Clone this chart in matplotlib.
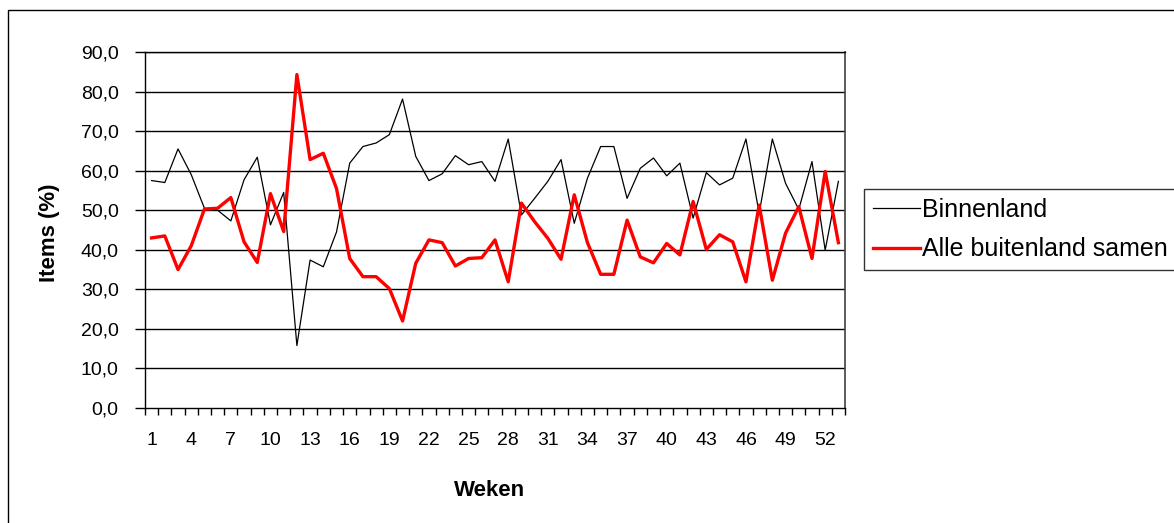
import numpy as np
import matplotlib
matplotlib.use("Agg")
import matplotlib.pyplot as plt
from matplotlib.patches import Rectangle
from matplotlib.ticker import FixedLocator, FuncFormatter

plt.rcParams['font.family'] = ['Liberation Sans', 'DejaVu Sans']

# weken 1..53
weken = np.arange(1, 54)

binnenland = [57.5, 57.0, 65.5, 59.0, 50.5, 50.0, 47.3, 57.7, 63.4, 46.3,
              54.5, 15.8, 37.4, 35.7, 44.5, 61.9, 66.1, 67.0, 69.1, 78.1,
              63.6, 57.5, 59.2, 63.8, 61.5, 62.3, 57.3, 68.0, 48.8, 53.0,
              57.3, 62.8, 46.7, 58.1, 66.1, 66.1, 53.0, 60.6, 63.2, 58.7,
              61.9, 48.0, 59.5, 56.4, 58.1, 68.0, 49.2, 68.0, 56.8, 50.2,
              62.3, 39.9, 57.3]

buitenland = [43.0, 43.5, 35.0, 41.0, 50.3, 50.5, 53.2, 42.0, 36.8, 54.2,
              44.6, 84.3, 62.8, 64.4, 55.5, 37.8, 33.2, 33.2, 30.2, 22.0,
              36.6, 42.5, 41.8, 35.9, 37.8, 38.0, 42.5, 31.9, 51.8, 47.1,
              42.9, 37.6, 53.9, 41.8, 33.8, 33.8, 47.5, 38.2, 36.7, 41.6,
              38.7, 52.2, 40.1, 43.8, 42.0, 31.9, 51.3, 32.3, 44.2, 50.9,
              37.8, 59.8, 41.8]

x_labels = list(range(1, 53, 3))
y_ticks = np.arange(0, 91, 10)

W, H = 1174, 523
fig = plt.figure(figsize=(W / 100, H / 100), dpi=100)
ax = fig.add_axes([145 / W, 1 - 408 / H, 700 / W, 356 / H])

# buitenrand van de grafiek (loopt buiten het beeld door)
fig.patches.append(Rectangle((8 / W, -0.1), 1.2, 1.1 - 10 / H, transform=fig.transFigure,
                             fill=False, edgecolor='black', linewidth=1.0))

for y in y_ticks[1:]:
    ax.axhline(y, color='black', linewidth=1.0, zorder=1)

ax.plot(weken, binnenland, color='black', linewidth=0.9, label='Binnenland', zorder=3)
ax.plot(weken, buitenland, color='#ff0000', linewidth=2.4, label='Alle buitenland samen', zorder=4)

ax.set_xlim(0.5, 53.5)
ax.set_ylim(0, 90)
ax.set_yticks(y_ticks)
ax.yaxis.set_major_formatter(FuncFormatter(lambda v, p: f"{v:.1f}".replace('.', ',')))
ax.xaxis.set_major_locator(FixedLocator(x_labels))
ax.xaxis.set_minor_locator(FixedLocator(np.arange(0.5, 54, 1)))
ax.tick_params(axis='x', which='major', length=0, pad=17, labelsize=14)
ax.tick_params(axis='x', which='minor', length=5, width=1, direction='out')
ax.tick_params(axis='y', length=7, width=1, direction='out', pad=12, labelsize=14)

for s in ['left', 'bottom', 'top']:
    ax.spines[s].set_color('black')
    ax.spines[s].set_linewidth(1.0)
ax.spines['right'].set_color('#404040')
ax.spines['right'].set_linewidth(1.2)

fig.text(490 / W, 1 - 490 / H, 'Weken', ha='center', va='center', fontsize=16, fontweight='bold')
fig.text(50 / W, 1 - 233 / H, 'Items (%)', ha='center', va='center', rotation=90,
         fontsize=16, fontweight='bold')

leg = fig.legend(loc='upper left', bbox_to_anchor=(864 / W, 1 - 189 / H), borderaxespad=0,
                 frameon=True, fancybox=False, fontsize=18, handlelength=1.9,
                 handletextpad=0.05, labelspacing=0.62, borderpad=0.35)
leg.get_frame().set_edgecolor('black')
leg.get_frame().set_linewidth(1.0)

fig.savefig('out.png', dpi=100)
